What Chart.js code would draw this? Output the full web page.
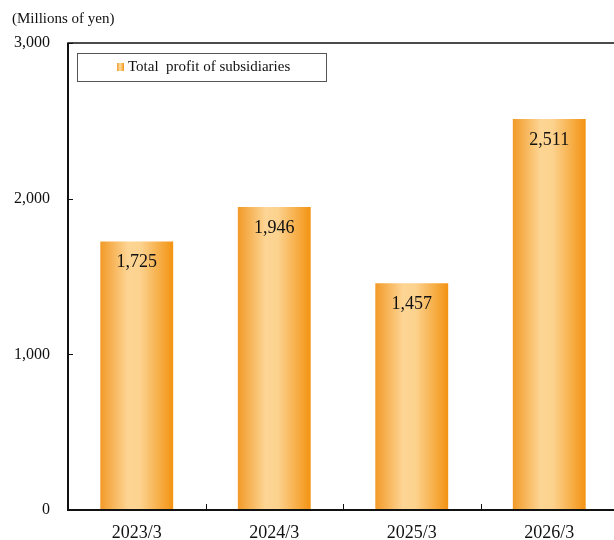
<!DOCTYPE html>
<html>
<head>
<meta charset="utf-8">
<script src="https://cdn.jsdelivr.net/npm/chart.js@4.4.1/dist/chart.umd.min.js"></script>
<style>
  html, body { margin: 0; padding: 0; background: #fff; overflow: hidden; }
  #wrap { width: 625px; height: 540px; position: relative; }
</style>
</head>
<body>
<div id="wrap"><canvas id="grafico"></canvas></div>
<script>
// dados do gráfico
var categorias = ["2023/3", "2024/3", "2025/3", "2026/3"];
var lucroSubsidiarias = [1725, 1946, 1457, 2511];
var ticksY = [0, 1000, 2000, 3000];
var nomeSerie = "Total  profit of subsidiaries";
var unidade = "(Millions of yen)";

var fonteSerif = "'Liberation Serif', 'DejaVu Serif', serif";

function gradienteBarra(ctx, x0, x1) {
  var g = ctx.createLinearGradient(x0, 0, x1, 0);
  g.addColorStop(0, "#F29A28");
  g.addColorStop(0.38, "#FDD594");
  g.addColorStop(0.55, "#FCD28E");
  g.addColorStop(1, "#F39312");
  return g;
}

var moldura = {
  id: "moldura",
  afterDatasetsDraw(chart) {
    var ctx = chart.ctx;
    var area = chart.chartArea;
    var x = chart.scales.x;
    var y = chart.scales.y;
    ctx.save();

    // valores dentro das barras
    var meta = chart.getDatasetMeta(0);
    ctx.fillStyle = "#111";
    ctx.font = "18px " + fonteSerif;
    ctx.textAlign = "center";
    ctx.textBaseline = "middle";
    meta.data.forEach((barra, i) => {
      ctx.fillText(lucroSubsidiarias[i].toLocaleString("en-US"), barra.x, barra.y + 21);
    });

    // moldura
    ctx.strokeStyle = "#111";
    ctx.lineWidth = 1.5;
    ctx.strokeRect(area.left, area.top, area.right - area.left, area.bottom - area.top);
    ctx.lineWidth = 2;
    ctx.beginPath();
    ctx.moveTo(area.left, area.top);
    ctx.lineTo(area.left, area.bottom);
    ctx.lineTo(area.right, area.bottom);
    ctx.stroke();

    // marcas internas
    ctx.lineWidth = 1;
    ctx.beginPath();
    ticksY.forEach((v) => {
      var py = Math.round(y.getPixelForValue(v)) + 0.5;
      ctx.moveTo(area.left, py);
      ctx.lineTo(area.left + 5, py);
    });
    for (var i = 1; i < categorias.length; i++) {
      var px = Math.round((x.getPixelForValue(i - 1) + x.getPixelForValue(i)) / 2) + 0.5;
      ctx.moveTo(px, area.bottom);
      ctx.lineTo(px, area.bottom - 6);
    }
    ctx.stroke();

    // legenda
    ctx.fillStyle = "#fff";
    ctx.fillRect(77, 53, 249, 28);
    ctx.strokeStyle = "#555";
    ctx.lineWidth = 1;
    ctx.strokeRect(77.5, 53.5, 249, 28);
    ctx.fillStyle = gradienteBarra(ctx, 117, 124);
    ctx.fillRect(117, 63, 7, 8);
    ctx.fillStyle = "#111";
    ctx.font = "15px " + fonteSerif;
    ctx.textAlign = "left";
    ctx.textBaseline = "middle";
    ctx.fillText(chart.data.datasets[0].label, 128, 67);

    // unidade
    ctx.font = "15px " + fonteSerif;
    ctx.fillText(unidade, 12, 19);
    ctx.restore();
  }
};

new Chart(document.getElementById("grafico"), {
  type: "bar",
  data: {
    labels: categorias,
    datasets: [
      {
        label: nomeSerie,
        data: lucroSubsidiarias,
        backgroundColor: function (c) {
          var chart = c.chart;
          var x = chart.scales.x;
          if (!x || c.dataIndex === undefined) return "#F7B04A";
          var meio = x.getPixelForValue(c.dataIndex);
          var largura = (x.width / categorias.length) * 0.53;
          if (!isFinite(meio) || !isFinite(largura) || largura <= 0) return "#F7B04A";
          return gradienteBarra(chart.ctx, meio - largura / 2, meio + largura / 2);
        },
        borderWidth: 0,
        categoryPercentage: 0.53,
        barPercentage: 1,
      },
    ],
  },
  options: {
    responsive: true,
    maintainAspectRatio: false,
    animation: false,
    layout: {
      padding: { top: 43, right: 7, left: 0, bottom: 0 },
    },
    plugins: {
      legend: { display: false },
      tooltip: { enabled: false },
    },
    scales: {
      x: {
        grid: { display: false },
        border: { display: false },
        ticks: {
          color: "#111",
          font: { family: fonteSerif, size: 18 },
          padding: 4,
        },
        afterFit: function (s) { s.height = 30; },
      },
      y: {
        min: 0,
        max: 3000,
        afterBuildTicks: function (s) {
          s.ticks = ticksY.map((v) => ({ value: v }));
        },
        grid: { display: false },
        border: { display: false },
        ticks: {
          color: "#111",
          font: { family: fonteSerif, size: 16 },
          padding: 10,
          callback: (v) => v.toLocaleString("en-US"),
        },
        afterFit: function (s) { s.width = 68; },
      },
    },
  },
  plugins: [moldura],
});
</script>
</body>
</html>
